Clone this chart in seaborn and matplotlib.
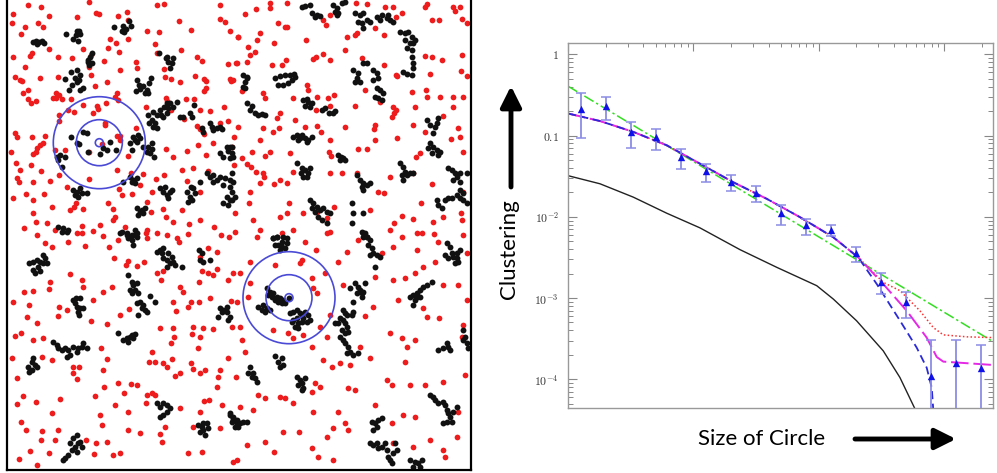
import numpy as np
import pandas as pd
import matplotlib
matplotlib.use("Agg")
import matplotlib.pyplot as plt
from matplotlib.patches import Circle
import seaborn as sns

# ---------------- left panel: point positions (pixel-like units) ----------------
red_points = [
(28,5),(41,7),(89,2),(13,14),(12,23),(49,16),(77,17),(96,13),(99,14),(118,16),(127,12),(128,20),(157,5),(164,4),(179,21),(220,5),(220,19),(225,22),(38,23),(43,27),(25,27),(21,34),(147,31),(159,32),(191,30),(230,31),(238,37),(110,39),(128,39),(108,48),(116,43),(155,44),(119,52),(83,49),(49,49),(91,55),(72,58),(13,57),(32,53),(30,56),(25,67),(58,57),(104,61),(136,62),(137,68),(157,53),(181,50),(197,57),(202,61),(228,64),(237,63),(164,69),(15,77),(20,80),(22,81),(40,78),(58,77),(89,67),(91,75),(107,82),(120,70),(165,77),(171,79),(180,82),(195,76),(204,79),(206,81),(230,79),(231,81),(28,90),(23,93),(56,93),(59,95),(56,98),(53,98),(62,99),(71,99),(95,86),(117,93),(115,97),(118,100),(28,99),(36,101),(31,103),(206,88),(204,91),(186,99),(194,99),(200,110),(166,98),(167,101),(224,107),(228,121),(220,123),(210,111),(97,106),(98,109),(106,103),(68,110),(74,112),(83,105),(93,113),(146,107),(184,119),(171,110),(197,126),(200,129),(59,115),(59,121),(105,123),(105,125),(136,128),(120,136),(117,136),(15,133),(17,137),(32,137),(45,136),(40,145),(37,148),(43,143),(11,152),(16,163),(20,170),(31,165),(36,152),(33,154),(41,171),(55,150),(65,150),(89,152),(120,140),(128,156),(117,170),(166,149),(173,157),(182,170),(187,151),(198,145),(204,134),(213,143),(234,137),(232,147),(234,165),(238,127),(206,155),(208,171),(193,168),(187,181),(156,179),(164,175),(143,174),(140,185),(131,173),(89,179),(67,187),(59,175),(19,182),(17,178),(33,182),(50,181),(13,198),(26,194),(44,194),(52,207),(33,200),(33,213),(24,228),(36,222),(47,223),(55,230),(70,210),(74,207),(76,203),(83,209),(82,226),(93,231),(100,225),(108,203),(113,209),(115,217),(113,220),(119,189),(122,195),(132,194),(152,192),(147,202),(151,212),(163,209),(166,217),(173,222),(182,210),(200,192),(214,227),(200,220),(189,224),(157,233),(147,230),(125,227),(77,233),(235,232),(102,144),
(245,14),(256,9),(270,3),(270,8),(287,3),(306,40),(278,23),(285,27),(287,27),(260,33),(238,37),(257,40),(255,52),(248,47),(250,55),(247,62),(236,63),(274,43),(272,65),(282,65),(286,60),(316,57),(313,59),(323,54),(330,60),(345,50),(323,20),(330,15),(326,25),(347,37),(355,35),(357,33),(356,3),(367,4),(375,28),(384,35),(385,7),(393,7),(402,13),(396,17),(425,7),(427,4),(432,20),(439,20),(453,7),(455,11),(460,7),(462,19),(467,23),(362,58),(384,65),(396,75),(397,76),(425,56),(432,57),(442,60),(462,55),(467,76),(461,71),(430,74),(412,92),(426,90),(427,97),(440,97),(453,97),(463,97),(233,80),(242,91),(263,93),(265,98),(293,98),(307,85),(308,90),(317,97),(328,98),(334,95),(330,106),(316,110),(355,106),(365,90),(380,102),(393,107),(396,110),(394,113),(392,117),(415,107),(413,125),(425,132),(443,116),(453,107),(458,128),(460,137),(451,139),(280,113),(277,118),(263,128),(273,132),(279,128),(295,120),(305,127),(317,126),(321,132),(345,127),(330,140),(329,152),(331,156),(290,153),(270,152),(265,156),(252,152),(260,140),(242,158),(247,164),(251,167),(256,172),(263,173),(264,177),(260,183),(274,184),(280,180),(287,183),(293,172),(330,173),(342,173),(358,149),(367,149),(375,140),(374,129),(375,125),(397,138),(420,153),(416,157),(413,173),(432,184),(463,152),(463,192),(461,213),(462,220),(443,217),(433,222),(421,203),(413,219),(402,216),(394,223),(378,192),(384,193),(390,177),(357,173),(370,210),(334,207),(327,218),(317,212),(303,213),(289,203),(287,213),(280,217),(293,230),(282,233),(260,230),(253,220),(249,203),(235,213),(250,192),(327,233),(390,230),(417,233),
(37,235),(45,243),(52,247),(68,242),(82,233),(85,246),(103,236),(109,247),(118,240),(114,258),(126,265),(128,261),(146,233),(147,238),(167,235),(177,238),(179,242),(188,234),(208,248),(217,252),(221,235),(229,237),(200,257),(202,271),(208,273),(217,269),(213,275),(228,280),(233,273),(199,282),(180,287),(183,292),(161,280),(157,273),(163,271),(144,262),(137,266),(173,302),(176,311),(188,307),(191,302),(199,302),(210,298),(231,301),(232,327),(228,358),(213,329),(203,328),(193,327),(192,334),(200,337),(198,348),(173,328),(171,343),(174,337),(160,328),(152,352),(172,359),(163,363),(167,367),(175,376),(180,373),(149,362),(155,362),(191,363),(193,369),(200,373),(205,370),(220,370),(218,377),(236,377),(217,387),(204,401),(209,400),(200,412),(222,405),(220,428),(193,427),(180,408),(152,393),(155,395),(147,395),(146,403),(165,427),(160,434),(162,442),(188,453),(202,452),(233,462),(140,433),(128,430),(128,412),(115,405),(124,393),(131,384),(137,385),(118,383),(104,387),(95,396),(100,415),(102,425),(96,443),(107,442),(120,453),(113,455),(94,454),(86,440),(49,453),(41,440),(42,431),(30,451),(19,459),(37,465),(58,430),(55,440),(52,413),(60,399),(36,402),(17,404),(23,396),(21,422),(26,430),(79,367),(73,367),(73,373),(77,379),(52,360),(42,357),(43,338),(33,340),(15,336),(21,333),(12,358),(17,378),(37,323),(29,305),(27,317),(24,292),(33,291),(49,289),(50,282),(59,307),(58,316),(67,310),(70,274),(82,280),(83,287),(93,300),(91,321),(103,292),(112,287),(120,315),(129,309),(101,348),(107,359),(103,370),(107,324),(13,302),
(257,237),(305,242),(316,250),(330,232),(347,252),(338,262),(358,240),(382,253),(393,247),(402,237),(417,250),(422,233),(434,234),(438,242),(463,235),(467,253),(435,262),(423,267),(415,273),(405,278),(393,280),(375,277),(373,307),(365,316),(398,300),(427,317),(423,308),(439,318),(443,285),(458,285),(467,300),(463,325),(462,337),(465,375),(443,382),(425,385),(410,385),(392,385),(387,380),(407,347),(405,362),(415,340),(402,338),(390,333),(360,347),(370,358),(350,365),(340,363),(332,367),(323,360),(327,337),(330,315),(343,285),(313,288),(317,293),(312,278),(325,273),(320,327),(312,347),(302,260),(300,263),(275,265),(250,262),(240,273),(250,283),(248,297),(237,302),(240,327),(242,340),(245,352),(273,330),(288,333),(293,338),(303,335),(320,387),(315,383),(312,392),(285,398),(280,397),(265,398),(258,395),(240,407),(253,410),(293,403),(313,412),(338,412),(348,388),(355,390),(375,405),(403,415),(415,417),(458,412),(457,437),(443,450),(445,457),(430,440),(413,447),(393,443),(392,423),(348,430),(345,423),(333,428),(327,437),(312,448),(318,457),(299,432),(283,432),(274,452),(265,442),(247,445),(237,460),(333,460),
]

black_points = [
(33,42),(36,41),(39,42),(42,41),(44,43),(37,44),
(66,34),(73,39),(77,31),(79,31),(76,35),(80,34),(78,41),
(114,27),(123,26),(126,29),(122,31),(131,26),(129,21),(124,32),
(92,53),(90,57),(88,62),(92,63),(89,65),(88,60),
(71,72),(77,70),(75,78),(80,75),(77,82),(72,85),(69,90),(80,90),(83,88),(65,79),(79,80),
(137,80),(139,85),(143,86),(147,90),(148,93),(145,93),(140,89),(136,91),(151,78),(149,83),
(148,115),(153,112),(157,115),(160,110),(164,107),(167,103),(170,103),(173,107),(177,102),(163,117),(152,120),(155,123),(157,128),(153,127),(149,123),(167,113),(180,117),(183,117),(168,108),(161,115),
(159,53),(166,58),(168,62),(172,63),(170,68),(167,57),(173,58),
(190,113),(192,117),(194,105),
(202,128),(203,132),(210,123),(212,127),(213,130),(217,128),(222,129),(220,127),
(220,153),(223,157),(227,147),(230,147),(232,153),(230,158),(228,151),
(71,137),(77,143),(79,144),(83,132),(87,133),(88,152),(100,154),(103,148),(107,150),(110,142),(116,150),
(133,137),(135,140),(137,142),(138,135),(140,138),(132,150),(130,143),
(148,147),(152,149),(150,153),(154,157),(147,152),(143,147),(152,143),
(57,157),(60,155),(65,157),(58,160),(62,167),
(73,190),(77,192),(80,188),(82,193),(75,195),(87,193),(78,197),
(123,182),(130,177),(133,180),(135,183),(132,182),(137,178),
(160,188),(163,192),(167,195),(170,192),(165,187),(168,198),(172,190),
(187,192),(190,197),(192,200),(188,202),(193,188),(195,193),(191,187),
(207,173),(210,177),(213,182),(217,180),(220,177),(225,178),(230,180),(213,175),(200,182),(223,185),
(223,203),(227,197),(230,200),(228,205),(232,192),
(137,208),(140,212),(142,210),(143,213),(138,215),(145,208),
(58,227),(63,228),(67,232),(62,232),(68,230),
(122,232),(127,233),(132,235),(135,230),(137,233),
(243,75),(247,78),(245,82),(243,87),(245,88),(247,77),
(275,78),(280,76),(285,75),(290,75),(294,74),(292,80),(288,83),(283,85),(278,85),(295,77),
(247,103),(250,110),(255,113),(258,115),(262,114),(252,106),(265,115),
(303,100),(307,99),(305,106),(310,107),(312,103),(308,102),
(322,110),(325,108),(329,113),(333,113),(335,111),
(293,137),(297,135),(300,138),(302,135),(305,138),(308,140),(312,137),(307,142),(298,140),
(338,155),(341,157),(343,158),(340,160),(345,160),
(297,163),(302,168),(305,170),(308,173),(310,168),(303,177),(307,177),(301,173),
(310,200),(313,203),(317,207),(320,210),(323,208),(327,212),(330,213),(318,217),(322,220),(327,223),(315,212),(312,208),
(232,147),(233,157),(232,173),(233,182),(230,187),(232,200),(235,197),
(302,7),(305,6),(310,5),(312,13),(317,15),(320,16),(315,17),
(333,5),(337,8),(342,3),(345,2),(337,15),(338,13),(335,12),
(355,13),(360,15),(363,13),(367,20),(370,22),(362,23),(358,22),(363,28),
(377,17),(382,15),(387,18),(390,20),(393,22),(380,20),(388,15),
(400,32),(405,33),(408,32),(412,37),(415,40),(410,43),(405,40),(407,48),(412,50),(412,57),(413,63),(413,68),(403,72),(407,74),(412,75),(413,43),
(353,70),(358,73),(357,78),(360,82),(355,82),(363,63),(367,63),
(373,70),(377,73),(378,78),(373,80),(377,88),(380,90),(383,93),(378,98),(382,100),(375,97),
(427,120),(430,125),(435,127),(438,118),(433,133),(437,123),
(430,143),(433,147),(437,150),(438,155),(432,153),(440,152),(428,148),
(400,163),(403,167),(405,172),(407,175),(410,173),(413,173),(402,175),(403,180),
(357,175),(360,180),(363,183),(367,185),(370,183),(362,187),(363,190),
(448,168),(452,170),(455,173),(460,173),(457,177),(453,180),(460,182),(467,173),
(437,200),(438,205),(442,208),(445,200),(448,198),(452,198),(457,195),(460,198),(463,200),(467,203),(463,193),(460,190),
(352,203),(353,213),(352,223),(363,213),
(273,238),(277,237),(283,237),(287,238),
(362,232),(365,233),(367,237),(363,237),
(29,263),(33,262),(37,260),(40,262),(43,263),(47,263),(38,267),(33,270),(35,273),(40,271),(43,255),(45,258),
(73,300),(75,303),(77,307),(80,308),(78,312),(76,298),(80,298),(79,315),(83,308),
(53,342),(57,345),(58,348),(62,350),(65,348),(68,350),(70,355),(73,347),(77,352),(78,348),(82,347),(83,343),(87,348),(67,357),
(28,367),(32,362),(33,358),(35,365),(32,370),(29,372),(37,367),
(118,333),(123,340),(127,338),(130,337),(132,335),(135,334),(128,342),(133,338),
(128,275),(132,282),(133,285),(137,283),(135,290),(130,290),(132,293),(138,293),
(137,303),(140,302),(143,305),(145,310),(147,312),(142,308),(138,315),
(150,296),(155,302),
(157,252),(162,253),(163,258),(167,260),(170,263),(173,262),(175,265),(168,253),(163,248),(160,250),(172,257),(182,267),(167,267),
(120,233),(127,235),(128,238),(132,240),(135,235),(133,245),(137,237),
(199,250),(202,253),(200,260),(203,262),(210,260),
(220,308),(223,310),(227,312),(222,312),(218,317),(228,320),(230,317),(227,307),
(157,403),(160,407),(163,403),(167,405),(170,408),(167,412),(163,415),(160,417),
(198,425),(202,427),(203,430),(200,432),(207,423),(208,428),(205,435),(203,423),
(230,413),(233,417),(237,423),(233,420),(238,427),
(73,438),(77,435),(78,443),(75,447),(72,450),(68,455),(63,460),(77,452),(80,442),(70,443),(65,458),(82,447),
(273,238),(277,237),(282,242),(278,245),(282,247),(285,248),(280,250),(287,243),(275,245),
(267,288),(270,292),(272,297),(275,300),(278,302),(282,303),(285,303),(283,300),(280,298),(277,297),(263,305),(267,308),(270,310),(258,307),(262,310),(265,312),(268,295),(273,293),(289,298),
(290,313),(293,312),(297,310),(300,313),(302,315),(297,318),(293,320),(292,322),(298,323),(302,322),(303,318),(295,327),(298,328),(305,312),(308,315),(310,320),(307,322),
(343,310),(345,313),(347,315),(340,318),(343,320),(345,323),(347,327),(342,330),(345,333),(348,332),(340,337),(343,340),(345,343),(348,347),(350,352),(353,355),(358,353),(347,353),(352,315),(353,312),(335,323),(338,323),
(355,283),(358,287),(360,290),(362,293),(363,292),(357,293),(362,297),(365,283),(350,288),(353,302),
(363,233),(367,237),(370,240),(368,245),(372,248),(373,253),(370,255),(377,255),(380,257),(375,267),
(410,297),(413,295),(417,293),(420,290),(423,287),(427,285),(432,282),(420,297),(415,300),(413,305),(417,297),
(447,243),(450,247),(452,253),(453,257),(457,258),(458,262),(455,263),(460,250),(457,253),(448,258),(445,255),
(463,330),(465,337),(467,343),(468,348),(463,340),
(438,350),(443,348),(448,347),(450,350),(447,343),
(275,356),(278,362),(282,358),(280,367),(283,365),
(250,367),(253,373),(252,377),(255,378),(248,373),(257,382),
(297,377),(300,380),(302,383),(298,385),(303,388),(302,390),(305,378),
(430,395),(433,397),(435,400),(438,403),(443,402),(445,405),(447,410),(448,413),(450,417),(447,422),(443,423),(452,422),(453,412),(457,407),
(372,422),(375,423),(378,420),(377,427),(382,418),(373,430),
(230,415),(233,418),(237,420),(240,423),(243,422),(247,422),(235,427),(232,422),
(370,443),(373,445),(377,443),(378,448),(382,447),(385,443),(387,450),(388,457),(390,460),(393,453),(397,450),(392,463),(395,443),
(410,460),(415,462),(418,463),(420,467),(413,467),(422,460),
]

circle_centers = [(99.3, 142.7), (289.0, 297.7)]
circle_radii = [4, 23, 46]

# ---------------- right panel: measured clustering ----------------
bin_size = [1.26, 2.0, 3.16, 5.0, 7.94, 12.6, 20.0, 31.6, 50.1, 79.4, 126, 200, 316, 501, 794, 1259, 1995]
clustering = [0.211, 0.230, 0.111, 0.0961, 0.0544, 0.0366, 0.0265, 0.0194, 0.0111, 0.00803, 0.00691,
              0.00360, 0.00159, 0.000893, 0.000109, 0.000158, 0.000137]
clust_hi = [0.330, 0.300, 0.147, 0.121, 0.0691, 0.0451, 0.0326, 0.0237, 0.0141, 0.00945, 0.00796,
            0.00430, 0.00201, 0.00120, 0.000303, 0.000303, 0.000265]
clust_lo = [0.0934, 0.154, 0.0711, 0.0672, 0.0391, 0.0265, 0.0209, 0.0151, 0.00796, 0.00605, 0.00580,
            0.00275, 0.00112, 0.000576, 1e-6, 1e-6, 1e-6]

# model curves
black_x = [1.0, 1.80, 3.32, 6.14, 11.3, 23.6, 46.3, 96.6, 131, 201, 328, 446, 587, 610]
black_y = [0.0321, 0.0255, 0.01746, 0.01107, 0.00731, 0.00394, 0.00239, 0.00142, 0.000972,
           0.000525, 0.000224, 0.000105, 4.34e-5, 3.5e-5]
common_x = [1.0, 1.80, 3.32, 6.14, 11.3, 20.8, 38.5, 71.1, 131, 207]
common_y = [0.187, 0.151, 0.111, 0.0759, 0.0451, 0.0267, 0.01667, 0.00989, 0.00560, 0.00317]
blue_x = [291, 447, 607, 729, 800, 822, 830]
blue_y = [0.00149, 0.000525, 0.000245, 0.000139, 7.87e-5, 4.3e-5, 3.5e-5]
magenta_x = [328, 505, 729, 877, 989, 2466]
magenta_y = [0.00149, 0.000697, 0.000326, 0.000188, 0.000165, 0.000150]
red_x = [328, 447, 644, 822, 989, 1521, 2466]
red_y = [0.00156, 0.00123, 0.000697, 0.000434, 0.000352, 0.000333, 0.000326]
green_x = [1.0, 2466]
green_y = [0.406, 2.91e-4]

ytick_vals = [1e-4, 1e-3, 1e-2, 0.1, 1]
ytick_labels = [r"$10^{-4}$", r"$10^{-3}$", r"$10^{-2}$", r"$0.1$", r"$1$"]

# ---------------- styling ----------------
sns.set_style("white")
plt.rcParams["font.family"] = ["Lato", "DejaVu Sans"]
plt.rcParams["mathtext.fontset"] = "cm"

W, H = 997, 473
fig = plt.figure(figsize=(W / 100, H / 100), dpi=100)

# left panel
ax1 = fig.add_axes([7 / W, 3 / H, 464 / W, 470 / H])
red_df = pd.DataFrame(red_points, columns=["x", "y"])
blk_df = pd.DataFrame(black_points, columns=["x", "y"])
sns.scatterplot(data=red_df, x="x", y="y", ax=ax1, color="#ee1c1c", s=17, linewidth=0, legend=False)
sns.scatterplot(data=blk_df, x="x", y="y", ax=ax1, color="#111111", s=18, linewidth=0, legend=False)
for cx, cy in circle_centers:
    for r in circle_radii:
        ax1.add_patch(Circle((cx, cy), r, fill=False, edgecolor="#4a4ad6", lw=1.2, zorder=5))
ax1.set_xlim(7, 471)
ax1.set_ylim(470, 0)
ax1.set_xticks([]); ax1.set_yticks([])
ax1.set_xlabel(""); ax1.set_ylabel("")
for s in ["left", "right", "bottom"]:
    ax1.spines[s].set_color("black")
    ax1.spines[s].set_linewidth(1.6)
ax1.spines["top"].set_visible(False)

# right panel
x0, x1 = 568, 993
ytop, ybot = 43, 408
ax2 = fig.add_axes([x0 / W, (H - ybot) / H, (x1 - x0) / W, (ybot - ytop) / H])
ax2.set_xscale("log"); ax2.set_yscale("log")

ax2.errorbar(bin_size, clustering,
             yerr=[np.array(clustering) - np.array(clust_lo), np.array(clust_hi) - np.array(clustering)],
             fmt="none", ecolor="#8c8ce6", elinewidth=1.3, capsize=3.5, capthick=1.1, zorder=3)
sns.scatterplot(x=bin_size, y=clustering, ax=ax2, marker="^", color="#1010e8", s=28, linewidth=0,
                zorder=6, legend=False)

sns.lineplot(x=black_x, y=black_y, ax=ax2, color="#222222", lw=1.0, sort=False, estimator=None, zorder=2)
sns.lineplot(x=green_x, y=green_y, ax=ax2, color="#33dd22", lw=1.1, sort=False, estimator=None, zorder=2,
             dashes=False).lines[-1].set_dashes([7, 2, 1.5, 2])
l_red = sns.lineplot(x=common_x + red_x, y=common_y + red_y, ax=ax2, color="#ff3030", lw=1.1,
                     sort=False, estimator=None, zorder=2).lines[-1]
l_red.set_linestyle((0, (1, 1.5)))
l_mag = sns.lineplot(x=common_x + magenta_x, y=common_y + magenta_y, ax=ax2, color="#e528e5", lw=1.4,
                     sort=False, estimator=None, zorder=2).lines[-1]
l_mag.set_linestyle((0, (9, 2.5)))
l_blue = sns.lineplot(x=common_x + blue_x, y=common_y + blue_y, ax=ax2, color="#2a2ad8", lw=1.3,
                      sort=False, estimator=None, zorder=2).lines[-1]
l_blue.set_linestyle((0, (4.5, 2.5)))

ax2.set_xlim(1, 2466)
ax2.set_ylim(4.43e-5, 1.379)
ax2.set_yticks(ytick_vals)
ax2.set_yticklabels(ytick_labels)
ax2.yaxis.set_minor_locator(matplotlib.ticker.LogLocator(base=10, subs=np.arange(2, 10)))
ax2.yaxis.set_minor_formatter(matplotlib.ticker.NullFormatter())
ax2.xaxis.set_major_locator(matplotlib.ticker.LogLocator(base=10))
ax2.xaxis.set_minor_locator(matplotlib.ticker.LogLocator(base=10, subs=np.arange(2, 10)))
ax2.xaxis.set_major_formatter(matplotlib.ticker.NullFormatter())
ax2.xaxis.set_minor_formatter(matplotlib.ticker.NullFormatter())
ax2.tick_params(axis="y", which="both", direction="in", left=True, right=True, color="#888888",
                labelsize=8.5, labelcolor="#333333", pad=6.5)
ax2.tick_params(axis="y", which="major", length=6.5, width=0.8)
ax2.tick_params(axis="y", which="minor", length=3.5, width=0.7)
ax2.tick_params(axis="x", which="both", direction="in", top=True, bottom=False, color="#888888")
ax2.tick_params(axis="x", which="major", length=5.5, width=0.8)
ax2.tick_params(axis="x", which="minor", length=3.2, width=0.7)
for s in ax2.spines.values():
    s.set_color("#999999")
    s.set_linewidth(1.0)
ax2.set_xlabel(""); ax2.set_ylabel("")
if ax2.get_legend():
    ax2.get_legend().remove()

# axis titles & arrows (figure pixel coordinates)
fig.text(509 / W, (H - 249) / H, "Clustering", rotation=90, ha="center", va="center",
         fontsize=16, color="black")
fig.text(762 / W, (H - 439) / H, "Size of Circle", ha="center", va="center", fontsize=16, color="black")
arrow_kw = dict(arrowstyle="-|>,head_length=0.7,head_width=0.35", lw=3.5, color="black",
                mutation_scale=18, shrinkA=0, shrinkB=0)
fig.add_artist(matplotlib.patches.FancyArrowPatch((511, H - 187), (511, H - 86), transform=None, **arrow_kw))
fig.add_artist(matplotlib.patches.FancyArrowPatch((855, H - 439), (956, H - 439), transform=None, **arrow_kw))

fig.savefig("out.png", dpi=100)
